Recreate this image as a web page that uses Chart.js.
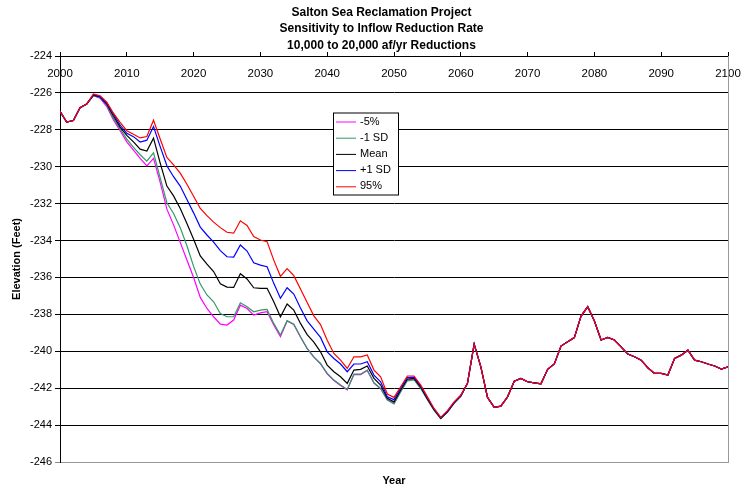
<!DOCTYPE html>
<html>
<head>
<meta charset="utf-8">
<script src="https://cdn.jsdelivr.net/npm/chart.js@4"></script>
<style>
  body { margin: 0; background: #fff; }
  #wrap { width: 743px; height: 490px; }
</style>
</head>
<body>
<div id="wrap"><canvas id="myChart" width="743" height="490"></canvas></div>
<script>
// anos do eixo x
var years = [
  2000, 2001, 2002, 2003, 2004, 2005, 2006, 2007, 2008, 2009,
  2010, 2011, 2012, 2013, 2014, 2015, 2016, 2017, 2018, 2019,
  2020, 2021, 2022, 2023, 2024, 2025, 2026, 2027, 2028, 2029,
  2030, 2031, 2032, 2033, 2034, 2035, 2036, 2037, 2038, 2039,
  2040, 2041, 2042, 2043, 2044, 2045, 2046, 2047, 2048, 2049,
  2050, 2051, 2052, 2053, 2054, 2055, 2056, 2057, 2058, 2059,
  2060, 2061, 2062, 2063, 2064, 2065, 2066, 2067, 2068, 2069,
  2070, 2071, 2072, 2073, 2074, 2075, 2076, 2077, 2078, 2079,
  2080, 2081, 2082, 2083, 2084, 2085, 2086, 2087, 2088, 2089,
  2090, 2091, 2092, 2093, 2094, 2095, 2096, 2097, 2098, 2099,
  2100
];

var xTicks = [2000, 2010, 2020, 2030, 2040, 2050, 2060, 2070, 2080, 2090, 2100];
var yTicks = [-224, -226, -228, -230, -232, -234, -236, -238, -240, -242, -244, -246];

// 2000-2004, all runs the same
var headAll = [-227.0, -227.58, -227.5, -226.8, -226.6];

// 2005-2060, one list per run
var minus5 = [
  -226.15, -226.28, -226.74, -227.47, -228.05, -228.65, -229.1, -229.55, -229.95, -229.55,
  -230.85, -232.3, -233.15, -234.1, -235.05, -236.0, -237.08, -237.68, -238.13, -238.53,
  -238.58, -238.31, -237.5, -237.68, -238.04, -237.92, -237.86, -238.58, -239.21, -238.36,
  -238.55, -239.23, -239.86, -240.32, -240.68, -241.22, -241.58, -241.85, -242.09, -241.26,
  -241.26, -241.04, -241.73, -242.03, -242.62, -242.82, -242.15, -241.55, -241.5, -241.98,
  -242.6, -243.18, -243.64, -243.3, -242.8, -242.43
];
var minus1sd = [
  -226.15, -226.25, -226.65, -227.38, -227.95, -228.5, -228.95, -229.35, -229.7, -229.25,
  -230.6, -231.95, -232.53, -233.3, -234.28, -235.4, -236.36, -236.95, -237.32, -237.95,
  -238.13, -238.13, -237.37, -237.59, -237.86, -237.77, -237.73, -238.49, -239.12, -238.34,
  -238.53, -239.21, -239.84, -240.3, -240.66, -241.2, -241.56, -241.83, -242.07, -241.24,
  -241.24, -241.02, -241.71, -242.01, -242.64, -242.85, -242.2, -241.6, -241.55, -242.02,
  -242.63, -243.2, -243.65, -243.3, -242.82, -242.44
];
var mean = [
  -226.12, -226.22, -226.6, -227.25, -227.85, -228.3, -228.65, -229.05, -229.15, -228.45,
  -229.8, -231.05, -231.58, -232.26, -233.07, -233.93, -234.83, -235.28, -235.68, -236.34,
  -236.52, -236.54, -235.8, -236.08, -236.56, -236.59, -236.59, -237.32, -238.13, -237.44,
  -237.77, -238.49, -239.1, -239.5, -240.03, -240.75, -241.11, -241.38, -241.74, -241.02,
  -240.98, -240.8, -241.47, -241.83, -242.55, -242.74, -242.1, -241.5, -241.47, -241.95,
  -242.58, -243.17, -243.63, -243.28, -242.8, -242.42
];
var plus1sd = [
  -226.1, -226.2, -226.56, -227.14, -227.74, -228.19, -228.37, -228.66, -228.56, -227.82,
  -228.91, -229.95, -230.54, -231.05, -231.78, -232.5, -233.27, -233.7, -234.09, -234.55,
  -234.88, -234.9, -234.24, -234.57, -235.2, -235.33, -235.42, -236.32, -237.13, -236.56,
  -236.9, -237.65, -238.35, -238.8, -239.25, -240.03, -240.39, -240.69, -241.11, -240.69,
  -240.69, -240.57, -241.29, -241.65, -242.47, -242.62, -242.0, -241.42, -241.4, -241.88,
  -242.52, -243.13, -243.6, -243.25, -242.77, -242.4
];
var p95 = [
  -226.05, -226.15, -226.5, -227.1, -227.6, -228.05, -228.24, -228.44, -228.36, -227.48,
  -228.5, -229.5, -229.9, -230.35, -230.95, -231.6, -232.26, -232.65, -233.0, -233.3,
  -233.55, -233.6, -232.93, -233.18, -233.78, -233.97, -234.06, -235.06, -235.94, -235.52,
  -235.9, -236.63, -237.36, -238.08, -238.55, -239.4, -240.12, -240.48, -240.93, -240.3,
  -240.3, -240.2, -241.02, -241.38, -242.32, -242.5, -241.92, -241.34, -241.34, -241.83,
  -242.47, -243.1, -243.58, -243.22, -242.74, -242.37
];

// 2061-2100, all runs the same
var tailAll = [
  -241.74, -239.61, -240.84, -242.5, -243.04, -242.97, -242.47, -241.62, -241.47, -241.65,
  -241.71, -241.76, -240.98, -240.69, -239.72, -239.48, -239.26, -238.09, -237.59, -238.36,
  -239.39, -239.25, -239.39, -239.76, -240.15, -240.3, -240.48, -240.89, -241.2, -241.2,
  -241.29, -240.39, -240.21, -239.94, -240.48, -240.57, -240.69, -240.8, -240.96, -240.84
];

var seriesNames = ['-5%', '-1 SD', 'Mean', '+1 SD', '95%'];
var seriesColors = ['#FF00FF', '#339966', '#000000', '#0000FF', '#FF0000'];
var seriesMid = [minus5, minus1sd, mean, plus1sd, p95];

var titleLines = ['Salton Sea Reclamation Project', 'Sensitivity to Inflow Reduction Rate', '10,000 to 20,000 af/yr Reductions'];

var fam = '"Liberation Sans", Arial, sans-serif';
Chart.defaults.font.family = fam;
Chart.defaults.color = '#000';

function pontos(mid) {
  var vals = headAll.concat(mid, tailAll);
  return years.map(function (yr, i) { return { x: yr, y: vals[i] }; });
}

var datasets = seriesNames.map(function (nome, i) {
  return {
    label: nome,
    data: pontos(seriesMid[i]),
    borderColor: seriesColors[i],
    backgroundColor: seriesColors[i],
    borderWidth: 1.2,
    pointRadius: 0,
    tension: 0,
    order: seriesNames.length - i
  };
});

// legenda em caixa dentro do grafico
const boxLegend = {
  id: 'boxLegend',
  afterDraw(chart) {
    const ctx = chart.ctx;
    const ca = chart.chartArea;
    const left = ca.left + 273, top = ca.top + 56.5;
    const w = 65, h = 82;
    ctx.save();
    ctx.fillStyle = '#fff';
    ctx.fillRect(left, top, w, h);
    ctx.strokeStyle = '#000';
    ctx.lineWidth = 1;
    ctx.strokeRect(left + 0.5, top + 0.5, w, h);
    ctx.font = '11px ' + fam;
    ctx.textBaseline = 'middle';
    chart.data.datasets.forEach(function (ds, i) {
      const y = top + 9 + i * 16.2;
      ctx.strokeStyle = ds.borderColor;
      ctx.lineWidth = 1;
      ctx.beginPath();
      ctx.moveTo(left + 3, y + 0.5);
      ctx.lineTo(left + 23, y + 0.5);
      ctx.stroke();
      ctx.fillStyle = '#000';
      ctx.fillText(ds.label, left + 27, y);
    });
    ctx.restore();
  }
};

const config = {
  type: 'line',
  data: { datasets: datasets },
  options: {
    responsive: false,
    animation: false,
    layout: { padding: { left: 20, right: 0, top: 0, bottom: 0 } },
    plugins: {
      legend: { display: false },
      tooltip: { enabled: false },
      title: {
        display: true,
        text: titleLines,
        color: '#000',
        font: { size: 12, weight: 'bold', lineHeight: 1.375 },
        padding: { top: 4, bottom: 0 }
      }
    },
    scales: {
      x: {
        type: 'linear',
        position: 'top',
        min: xTicks[0],
        max: xTicks[xTicks.length - 1],
        afterFit: function (s) { s.height = 2.5; s.paddingLeft = 0; s.paddingRight = 0; },
        afterBuildTicks: function (s) { s.ticks = xTicks.map(function (v) { return { value: v }; }); },
        ticks: {
          mirror: true,
          padding: 11,
          color: '#000',
          font: { size: 11.5 },
          maxRotation: 0,
          autoSkip: false,
          callback: function (v) { return String(v); }
        },
        grid: { drawOnChartArea: false, color: '#000', tickLength: 4 },
        border: { color: '#000' }
      },
      x2: {
        type: 'linear',
        position: 'bottom',
        min: xTicks[0],
        max: xTicks[xTicks.length - 1],
        afterFit: function (s) { s.height = 28; s.paddingLeft = 0; s.paddingRight = 0; },
        ticks: { display: false },
        grid: { display: false },
        border: { color: '#999' },
        title: {
          display: true,
          text: 'Year',
          color: '#000',
          font: { size: 11, weight: 'bold' },
          padding: { top: 0, bottom: 2 }
        }
      },
      y: {
        min: yTicks[yTicks.length - 1],
        max: yTicks[0],
        afterFit: function (s) { s.width = 40; },
        afterBuildTicks: function (s) { s.ticks = yTicks.map(function (v) { return { value: v }; }); },
        ticks: { padding: 3, color: '#000', font: { size: 11 } },
        grid: {
          color: function (c) { return c.tick && c.tick.value === -246 ? '#888' : '#000'; },
          tickLength: 5
        },
        border: { color: '#000' },
        title: {
          display: true,
          text: 'Elevation (Feet)',
          color: '#000',
          font: { size: 11, weight: 'bold' },
          padding: { top: -10, bottom: 0 }
        }
      },
      y2: {
        position: 'right',
        min: yTicks[yTicks.length - 1],
        max: yTicks[0],
        afterFit: function (s) { s.width = 15; },
        ticks: { display: false },
        grid: { display: false },
        border: { color: '#999' }
      }
    }
  },
  plugins: [boxLegend]
};

const myChart = new Chart(document.getElementById('myChart'), config);
</script>
</body>
</html>
